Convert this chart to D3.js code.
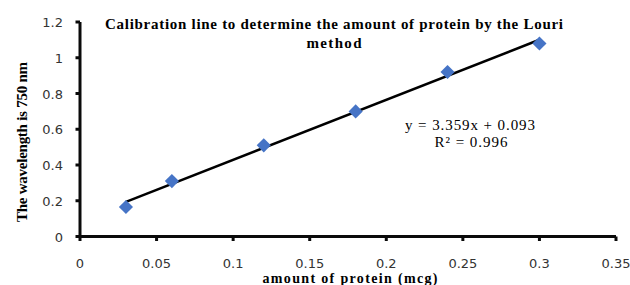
<!DOCTYPE html>
<html>
<head>
<meta charset="utf-8">
<script src="https://cdn.jsdelivr.net/npm/d3@7"></script>
<style>
  body { margin: 0; background: #fff; }
</style>
</head>
<body>
<div id="chart"></div>
<script>
// data
const protein = [0.03, 0.06, 0.12, 0.18, 0.24, 0.30];
const absorb = [0.165, 0.31, 0.51, 0.70, 0.92, 1.08];
const xTicks = [0, 0.05, 0.1, 0.15, 0.2, 0.25, 0.3, 0.35];
const yTicks = [0, 0.2, 0.4, 0.6, 0.8, 1, 1.2];
const slope = 3.359, intercept = 0.093;

const W = 630, H = 285;

const svg = d3.select("#chart").append("svg")
    .attr("width", W)
    .attr("height", H);

const x = d3.scaleLinear().domain([0, 0.35]).range([80, 616]);
const y = d3.scaleLinear().domain([0, 1.2]).range([236.5, 22]);

// axis frame first
const frame = svg.append("g");
frame.append("line")
    .attr("x1", x(0)).attr("x2", x(0))
    .attr("y1", y(1.2)).attr("y2", y(0) + 1.5)
    .attr("stroke", "#0a0a0a").attr("stroke-width", 3);
frame.append("line")
    .attr("x1", x(0) - 1.5).attr("x2", x(0.35))
    .attr("y1", y(0)).attr("y2", y(0))
    .attr("stroke", "#0a0a0a").attr("stroke-width", 3);
frame.selectAll(".xt")
    .data(xTicks)
    .join("line")
    .attr("class", "xt")
    .attr("x1", d => x(d)).attr("x2", d => x(d))
    .attr("y1", y(0)).attr("y2", y(0) + 4.5)
    .attr("stroke", "#0a0a0a").attr("stroke-width", 3);
frame.selectAll(".yt")
    .data(yTicks)
    .join("line")
    .attr("class", "yt")
    .attr("x1", x(0) - 4.5).attr("x2", x(0))
    .attr("y1", d => y(d)).attr("y2", d => y(d))
    .attr("stroke", "#0a0a0a").attr("stroke-width", 3);

// tick labels
const tickFont = "'DejaVu Sans', sans-serif";
svg.selectAll(".xl")
    .data(xTicks)
    .join("text")
    .attr("class", "xl")
    .attr("x", d => x(d))
    .attr("y", 268)
    .attr("text-anchor", "middle")
    .style("font-family", tickFont)
    .style("font-size", "13px")
    .style("fill", "#333")
    .text(d => String(+d.toFixed(2)));
svg.selectAll(".yl")
    .data(yTicks)
    .join("text")
    .attr("class", "yl")
    .attr("x", 63)
    .attr("y", d => y(d) + 5)
    .attr("text-anchor", "end")
    .style("font-family", tickFont)
    .style("font-size", "13px")
    .style("fill", "#333")
    .text(d => String(+d.toFixed(1)));

// trend line
const trend = d3.line().x(d => x(d)).y(d => y(slope * d + intercept));
svg.append("path")
    .attr("d", trend([d3.min(protein), d3.max(protein)]))
    .attr("fill", "none")
    .attr("stroke", "#000")
    .attr("stroke-width", 2.5);

// points
svg.selectAll(".pt")
    .data(protein)
    .join("path")
    .attr("class", "pt")
    .attr("d", d3.symbol().type(d3.symbolSquare).size(100))
    .attr("transform", (d, i) => `translate(${x(d)},${y(absorb[i])}) rotate(45)`)
    .attr("fill", "#4674c6");

// texts
const serif = "'Liberation Serif', 'Times New Roman', serif";
function label(tx, ty, str, len, bold, rot) {
    return svg.append("text")
        .attr("transform", `translate(${tx},${ty})` + (rot ? ` rotate(${rot})` : ""))
        .attr("text-anchor", "middle")
        .attr("textLength", len)
        .attr("lengthAdjust", "spacing")
        .style("font-family", serif)
        .style("font-size", "15px")
        .style("font-weight", bold ? "bold" : "normal")
        .style("fill", "#000")
        .text(str);
}

label(334, 29, "Calibration line to determine the amount of protein by the Louri", 458, true);
label(334, 48, "method", 55, true);
label(470, 130, "y = 3.359x + 0.093", 130, false);
label(471, 147, "R² = 0.996", 73, false);
label(350, 283, "amount of protein (mcg)", 175, true).style("font-size", "14px");
label(27, 142, "The wavelength is 750 nm", 160, true, -90);
</script>
</body>
</html>
